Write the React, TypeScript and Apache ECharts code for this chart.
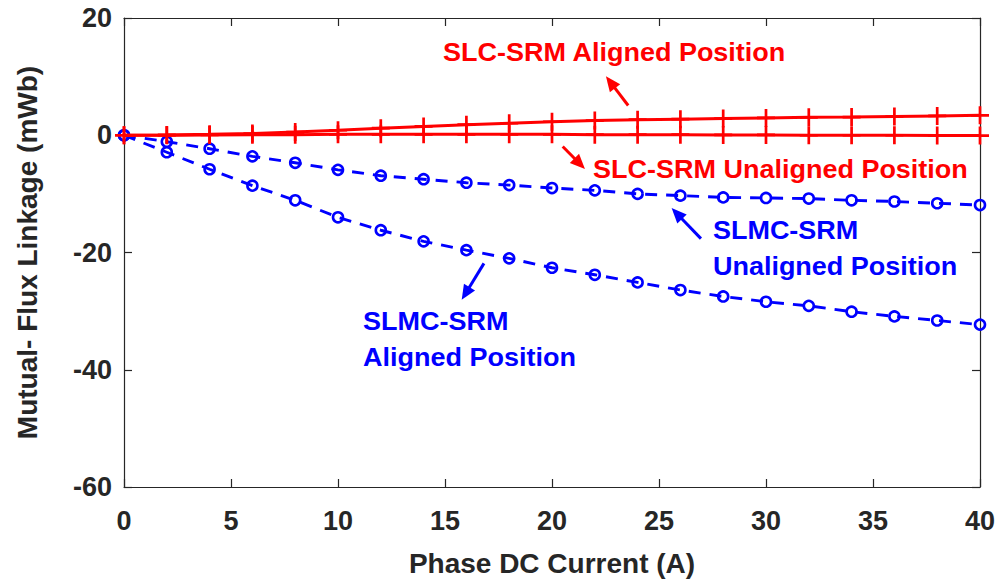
import React, { useEffect, useRef } from "react";
import * as echarts from "echarts";

// ---------- data ----------
const current = [0, 2, 4, 6, 8, 10, 12, 14, 16, 18, 20, 22, 24, 26, 28, 30, 32, 34, 36, 38, 40];
const slcAligned = [0, 0.05, 0.15, 0.3, 0.55, 0.85, 1.2, 1.5, 1.8, 2.05, 2.3, 2.5, 2.65, 2.75, 2.85, 2.95, 3.05, 3.1, 3.2, 3.3, 3.4];
const slcUnaligned = [0, 0, 0.05, 0.1, 0.1, 0.15, 0.15, 0.15, 0.15, 0.15, 0.15, 0.1, 0.1, 0.1, 0.05, 0.05, 0, 0, 0, -0.05, -0.05];
const slmcUnaligned = [0, -1.1, -2.3, -3.6, -4.7, -5.9, -6.9, -7.5, -8.1, -8.5, -9.0, -9.4, -10.0, -10.3, -10.6, -10.7, -10.8, -11.1, -11.3, -11.6, -11.9];
const slmcAligned = [0, -2.9, -5.8, -8.6, -11.1, -14.0, -16.2, -18.1, -19.6, -21.0, -22.6, -23.8, -25.1, -26.4, -27.5, -28.4, -29.1, -30.1, -30.9, -31.6, -32.3];

const xMin = 0, xMax = 40, xInterval = 5;
const yMin = -60, yMax = 20, yInterval = 20;

const RED = "#ff0000";
const BLUE = "#0000ff";
const AXIS = "#262626";

// annotation lines: [x, y] in data coordinates (left edge, vertical middle)
const noteTexts = [
  { text: "SLC-SRM Aligned Position", color: RED, at: [14.91, 14.07] },
  { text: "SLC-SRM Unaligned Position", color: RED, at: [21.92, -5.76] },
  { text: "SLMC-SRM", color: BLUE, at: [27.52, -16.27] },
  { text: "Unaligned Position", color: BLUE, at: [27.52, -22.37] },
  { text: "SLMC-SRM", color: BLUE, at: [11.17, -31.78] },
  { text: "Aligned Position", color: BLUE, at: [11.17, -37.97] },
];
// arrows: tail -> head, data coordinates
const noteArrows = [
  { color: RED, from: [23.56, 5.08], to: [22.52, 10.05] },
  { color: RED, from: [20.5, -1.92], to: [21.54, -5.76] },
  { color: BLUE, from: [26.96, -17.63], to: [25.59, -12.42] },
  { color: BLUE, from: [16.82, -21.86], to: [15.78, -28.08] },
];

const pair = (ys: number[]) => current.map((x, i) => [x, ys[i]]);

const PLUS = "path://M8.5,0H11.5V8.5H20V11.5H11.5V20H8.5V11.5H0V8.5H8.5Z";
const FONT = "'Liberation Sans', Arial, Helvetica, sans-serif";

export default function App() {
  const ref = useRef<HTMLDivElement>(null);
  useEffect(() => {
    if (!ref.current) return;
    const chart = echarts.init(ref.current, null, { renderer: "svg" });
    const boxAxisCommon = {
      axisLine: { show: true, onZero: false, lineStyle: { color: AXIS, width: 1.2 } },
      axisTick: { show: true, inside: true, length: 8, lineStyle: { color: AXIS, width: 1.2 } },
      splitLine: { show: false },
    };
    const blueSeries = (name: string, ys: number[]) => ({
      name,
      type: "line",
      data: pair(ys),
      symbol: "circle",
      symbolSize: 10,
      showSymbol: true,
      itemStyle: { color: "rgba(0,0,0,0)", borderColor: BLUE, borderWidth: 2.6 },
      lineStyle: { color: BLUE, width: 2.9, type: [12, 9] },
      z: 2,
    });
    const redSeries = (name: string, ys: number[]) => ({
      name,
      type: "line",
      data: pair(ys),
      symbol: PLUS,
      symbolSize: 18,
      showSymbol: true,
      itemStyle: { color: RED, borderWidth: 0 },
      lineStyle: { color: RED, width: 3 },
      z: 3,
    });
    chart.setOption({
      animation: false,
      backgroundColor: "#ffffff",
      textStyle: { fontFamily: FONT },
      grid: { left: 124, top: 18, width: 856, height: 472, containLabel: false },
      xAxis: [
        {
          type: "value",
          position: "bottom",
          min: xMin,
          max: xMax,
          interval: xInterval,
          ...boxAxisCommon,
          axisLabel: { color: AXIS, fontSize: 27, fontWeight: "bold", fontFamily: FONT, margin: 20 },
          name: "Phase DC Current (A)",
          nameLocation: "middle",
          nameGap: 62,
          nameTextStyle: { color: AXIS, fontSize: 28, fontWeight: "bold", fontFamily: FONT },
        },
        {
          type: "value",
          position: "top",
          min: xMin,
          max: xMax,
          interval: xInterval,
          ...boxAxisCommon,
          axisLabel: { show: false },
        },
      ],
      yAxis: [
        {
          type: "value",
          position: "left",
          min: yMin,
          max: yMax,
          interval: yInterval,
          ...boxAxisCommon,
          axisLabel: { color: AXIS, fontSize: 27, fontWeight: "bold", fontFamily: FONT, margin: 12 },
          name: "Mutual- Flux Linkage (mWb)",
          nameLocation: "middle",
          nameGap: 83,
          nameTextStyle: { color: AXIS, fontSize: 28, fontWeight: "bold", fontFamily: FONT },
        },
        {
          type: "value",
          position: "right",
          min: yMin,
          max: yMax,
          interval: yInterval,
          ...boxAxisCommon,
          axisLabel: { show: false },
        },
      ],
      series: [
        blueSeries("SLMC-SRM Unaligned Position", slmcUnaligned),
        blueSeries("SLMC-SRM Aligned Position", slmcAligned),
        redSeries("SLC-SRM Unaligned Position", slcUnaligned),
        redSeries("SLC-SRM Aligned Position", slcAligned),
      ],
    });

    const toPx = (p: number[]) => chart.convertToPixel({ gridIndex: 0 } as any, p) as number[];
    const graphics: any[] = [];
    noteTexts.forEach((n) => {
      const [px, py] = toPx(n.at);
      graphics.push({
        type: "text",
        x: px,
        y: py,
        scaleX: 1.08,
        z: 10,
        style: {
          text: n.text,
          fill: n.color,
          fontSize: 25,
          fontWeight: "bold",
          fontFamily: FONT,
          align: "left",
          verticalAlign: "middle",
        },
      });
    });
    noteArrows.forEach((a) => {
      const [x1, y1] = toPx(a.from);
      const [x2, y2] = toPx(a.to);
      const dx = x2 - x1, dy = y2 - y1;
      const len = Math.sqrt(dx * dx + dy * dy);
      const ux = dx / len, uy = dy / len;
      const headLen = 15, headHalf = 6.5;
      const bx = x2 - ux * headLen, by = y2 - uy * headLen;
      graphics.push({
        type: "line",
        z: 10,
        shape: { x1, y1, x2: bx + ux * 2, y2: by + uy * 2 },
        style: { stroke: a.color, lineWidth: 3 },
      });
      graphics.push({
        type: "polygon",
        z: 10,
        shape: {
          points: [
            [x2, y2],
            [bx - uy * headHalf, by + ux * headHalf],
            [bx + uy * headHalf, by - ux * headHalf],
          ],
        },
        style: { fill: a.color },
      });
    });
    chart.setOption({ graphic: graphics });

    return () => chart.dispose();
  }, []);
  return (
    <div
      ref={ref}
      style={{ position: "absolute", left: 0, top: 0, width: 1000, height: 582, background: "#fff" }}
    />
  );
}
